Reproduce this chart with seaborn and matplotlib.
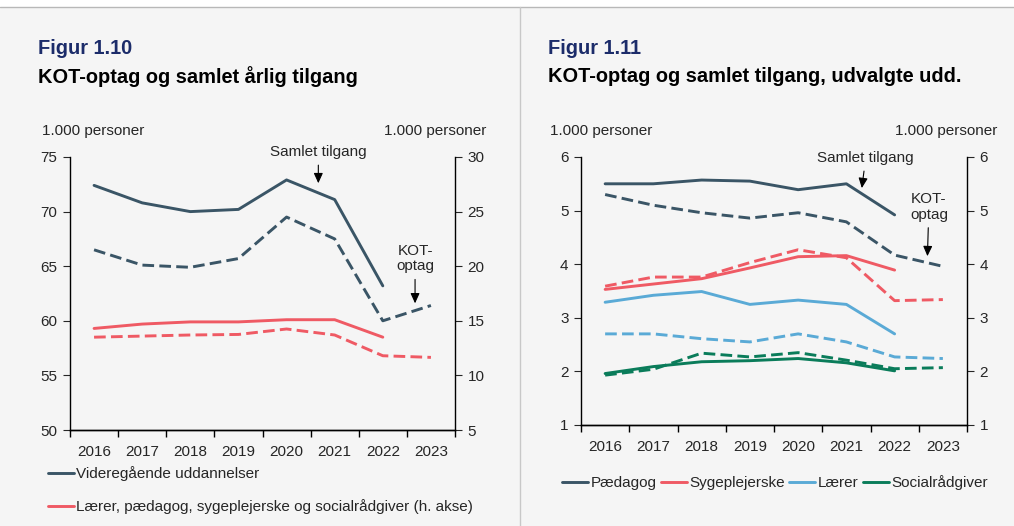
import numpy as np
import pandas as pd
import matplotlib
matplotlib.use('Agg')
import matplotlib.pyplot as plt
import seaborn as sns
from matplotlib.lines import Line2D

sns.set_style('ticks')
plt.rcParams['font.family'] = ['Liberation Sans', 'DejaVu Sans']
plt.rcParams['font.size'] = 11

BG = '#f5f5f5'
MORK = '#3a5566'
ROD = '#ef5a64'
BLA = '#5aaad6'
GRON = '#0a7c5a'
NAVY = '#1c2c6a'

# data (1.000 personer)
years = [2016, 2017, 2018, 2019, 2020, 2021, 2022, 2023]
year_labels = [str(y) for y in years]

# Figur 1.10
vid_tilgang = [72.4, 70.8, 70.0, 70.2, 72.9, 71.1, 63.2]
vid_kot = [66.5, 65.1, 64.9, 65.7, 69.5, 67.5, 60.0, 61.4]
lps_tilgang = [14.3, 14.7, 14.9, 14.9, 15.1, 15.1, 13.5]
lps_kot = [13.5, 13.6, 13.7, 13.75, 14.25, 13.7, 11.8, 11.65]

# Figur 1.11
paed_t = [5.50, 5.50, 5.57, 5.55, 5.39, 5.50, 4.92]
paed_k = [5.30, 5.10, 4.96, 4.86, 4.96, 4.79, 4.17, 3.96]
syg_t = [3.53, 3.63, 3.73, 3.93, 4.14, 4.16, 3.89]
syg_k = [3.59, 3.76, 3.76, 4.03, 4.27, 4.12, 3.32, 3.34]
laer_t = [3.29, 3.42, 3.49, 3.25, 3.33, 3.25, 2.70]
laer_k = [2.70, 2.70, 2.61, 2.55, 2.70, 2.55, 2.27, 2.24]
soc_t = [1.96, 2.09, 2.18, 2.20, 2.24, 2.16, 2.01]
soc_k = [1.93, 2.04, 2.34, 2.27, 2.35, 2.21, 2.05, 2.07]

LW = 2.1
DASH = (4.0, 1.8)

fig = plt.figure(figsize=(10.14, 5.26), dpi=100)
fig.patch.set_facecolor(BG)

# ramme: hvid top, grå linje og lodret skillelinje
fig.add_artist(plt.Rectangle((0, 1 - 7 / 526), 1, 7 / 526, transform=fig.transFigure,
                             facecolor='white', edgecolor='none'))
fig.add_artist(Line2D([0, 1], [1 - 7 / 526] * 2, transform=fig.transFigure, color='#b8b8b8', lw=1))
fig.add_artist(Line2D([520 / 1014] * 2, [0, 1 - 7 / 526], transform=fig.transFigure, color='#c8c8c8', lw=1))


def style_x(ax):
    ax.set_xlim(2015.5, 2023.5)
    ax.set_xticks(np.arange(2015.5, 2024.5, 1.0))
    ax.set_xticklabels([])
    ax.set_xticks(years, minor=True)
    ax.set_xticklabels(year_labels, minor=True)
    ax.tick_params(axis='x', which='minor', length=0, pad=11, labelsize=11)
    ax.tick_params(axis='x', which='major', length=5, width=1, color='black')
    ax.set_xlabel('')
    ax.set_ylabel('')


def line(ax, x, y, color, dashed=False, label=None):
    sns.lineplot(x=x, y=y, ax=ax, color=color, lw=LW, label=label, legend=False,
                 linestyle='--' if dashed else '-')
    if dashed:
        ax.lines[-1].set_dashes(DASH)


def arrow(ax, text, xy, xytext, ha='center'):
    ax.annotate(text, xy=xy, xytext=xytext, ha=ha, va='center', fontsize=11,
                annotation_clip=False, linespacing=1.15,
                arrowprops=dict(arrowstyle='-|>,head_width=0.25,head_length=0.55',
                                color='black', lw=0.8, shrinkA=2, shrinkB=0))


# ---------- Figur 1.10 ----------
ax1 = fig.add_axes([70 / 1014, 1 - 430 / 526, 385 / 1014, 273 / 526])
ax1.set_facecolor(BG)
ax1r = ax1.twinx()
line(ax1, years[:7], vid_tilgang, MORK, label='Videregående uddannelser')
line(ax1, years, vid_kot, MORK, dashed=True)
line(ax1r, years[:7], lps_tilgang, ROD, label='Lærer, pædagog, sygeplejerske og socialrådgiver (h. akse)')
line(ax1r, years, lps_kot, ROD, dashed=True)
ax1.set_ylim(50, 75)
ax1.set_yticks(range(50, 76, 5))
ax1r.set_ylim(5, 30)
ax1r.set_yticks(range(5, 31, 5))
style_x(ax1)
ax1r.set_ylabel('')
for a in (ax1, ax1r):
    a.tick_params(axis='y', length=5, labelsize=11, pad=4)
    for s in ('left', 'right', 'bottom'):
        a.spines[s].set_color('black')
        a.spines[s].set_linewidth(1)
    a.spines['top'].set_visible(False)
ax1.spines['right'].set_visible(False)
ax1r.spines['left'].set_visible(False)

arrow(ax1, 'Samlet tilgang', (2020.66, 72.6), (2020.66, 75.45))
arrow(ax1, 'KOT-\noptag', (2022.67, 61.6), (2022.67, 65.7))

fig.legend(handles=[Line2D([], [], color=MORK, lw=LW), Line2D([], [], color=ROD, lw=LW)],
           labels=['Videregående uddannelser',
                   'Lærer, pædagog, sygeplejerske og socialrådgiver (h. akse)'],
           loc='upper left', bbox_to_anchor=(48 / 1014, 1 - 466 / 526), frameon=False,
           fontsize=11, handlelength=1.7, handletextpad=0.15, labelspacing=1.2,
           borderpad=0, borderaxespad=0)

fig.text(38 / 1014, 1 - 48 / 526, 'Figur 1.10', color=NAVY, fontsize=14.4, fontweight='bold',
         va='center')
fig.text(38 / 1014, 1 - 77 / 526, 'KOT-optag og samlet årlig tilgang', color='black',
         fontsize=14.4, fontweight='bold', va='center')
fig.text(42 / 1014, 1 - 131 / 526, '1.000 personer', fontsize=11, va='center')
fig.text(486 / 1014, 1 - 131 / 526, '1.000 personer', fontsize=11, va='center', ha='right')

# ---------- Figur 1.11 ----------
ax2 = fig.add_axes([581 / 1014, 1 - 425 / 526, 386 / 1014, 268 / 526])
ax2.set_facecolor(BG)
serier = [('Pædagog', paed_t, paed_k, MORK),
          ('Sygeplejerske', syg_t, syg_k, ROD),
          ('Lærer', laer_t, laer_k, BLA),
          ('Socialrådgiver', soc_t, soc_k, GRON)]
for navn, t, k, c in serier:
    line(ax2, years[:7], t, c, label=navn)
    line(ax2, years, k, c, dashed=True)
ax2.set_ylim(1, 6)
ax2.set_yticks(range(1, 7))
style_x(ax2)
ax2r = ax2.twinx()
ax2r.set_ylim(1, 6)
ax2r.set_yticks(range(1, 7))
for a in (ax2, ax2r):
    a.tick_params(axis='y', length=5, labelsize=11, pad=4)
    for s in ('left', 'right', 'bottom'):
        a.spines[s].set_color('black')
        a.spines[s].set_linewidth(1)
    a.spines['top'].set_visible(False)
ax2.spines['right'].set_visible(False)
ax2r.spines['left'].set_visible(False)

arrow(ax2, 'Samlet tilgang', (2021.32, 5.42), (2021.4, 5.98))
arrow(ax2, 'KOT-\noptag', (2022.68, 4.15), (2022.71, 5.07))

fig.legend(handles=[Line2D([], [], color=c, lw=LW) for _, _, _, c in serier],
           labels=[n for n, _, _, _ in serier],
           loc='center left', bbox_to_anchor=(562 / 1014, 1 - 483 / 526), frameon=False,
           ncol=4, fontsize=11, handlelength=1.7, handletextpad=0.15, columnspacing=0.3,
           borderpad=0, borderaxespad=0)

fig.text(548 / 1014, 1 - 48 / 526, 'Figur 1.11', color=NAVY, fontsize=14.4, fontweight='bold',
         va='center')
fig.text(548 / 1014, 1 - 77 / 526, 'KOT-optag og samlet tilgang, udvalgte udd.', color='black',
         fontsize=14.4, fontweight='bold', va='center')
fig.text(550 / 1014, 1 - 131 / 526, '1.000 personer', fontsize=11, va='center')
fig.text(997 / 1014, 1 - 131 / 526, '1.000 personer', fontsize=11, va='center', ha='right')

fig.savefig('out.png', dpi=100, facecolor=fig.get_facecolor())
